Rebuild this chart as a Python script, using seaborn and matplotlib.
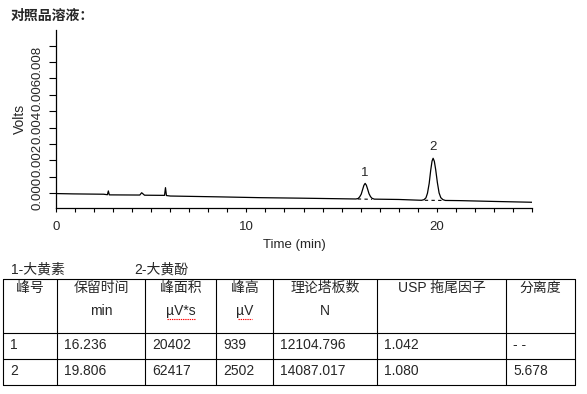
# Chromatogram of the reference solution with the peak result table
import pandas as pd
import matplotlib.pyplot as plt
import seaborn as sns
from matplotlib.ticker import MultipleLocator, FixedLocator

# -------------------------------
# 1. Data
# -------------------------------
time_min = [0.0, 0.9, 2.5, 2.7, 2.75, 2.8, 4.4, 4.5, 4.65, 5.7, 5.75, 5.8, 6.0,
            8.5, 10.7, 12.8, 15.75,
            15.87, 15.95, 16.03, 16.10, 16.17, 16.236, 16.30, 16.37, 16.44, 16.52, 16.60, 16.72,
            18.0, 19.2,
            19.33, 19.43, 19.51, 19.60, 19.68, 19.75, 19.806, 19.87, 19.94, 20.03, 20.12, 20.21,
            20.32, 20.45,
            21.2, 23.0, 25.0]
volts = [-0.00002, -0.00004, -0.00006, -0.00009, 0.00014, -0.00010, -0.00011, 0.00003, -0.00012,
         -0.00013, 0.00034, -0.00014, -0.00017,
         -0.00022, -0.00027, -0.00030, -0.00035,
         -0.00032, -0.00022, -0.00006, 0.00021, 0.00048, 0.00060, 0.00049, 0.00024, -0.00003,
         -0.00021, -0.00031, -0.00036,
         -0.00038, -0.00043,
         -0.00039, -0.00028, 0.00000, 0.00060, 0.00140, 0.00196, 0.00213, 0.00195, 0.00145,
         0.00065, 0.00002, -0.00027, -0.00039, -0.00044,
         -0.00045, -0.00050, -0.00055]

peak_labels = ['1', '2']
peak_rt = [16.236, 19.806]
peak_top = [0.00060, 0.00213]
base_start = [15.85, 19.37]
base_end = [16.60, 20.42]
base_start_v = [-0.00035, -0.00043]
base_end_v = [-0.00037, -0.00044]

compounds = ['1-大黄素', '2-大黄酚']
header_cn = ['峰号', '保留时间', '峰面积', '峰高', '理论塔板数', 'USP 拖尾因子', '分离度']
header_unit = ['', 'min', 'µV*s', 'µV', 'N', '', '']
row1 = ['1', '16.236', '20402', '939', '12104.796', '1.042', '--']
row2 = ['2', '19.806', '62417', '2502', '14087.017', '1.080', '5.678']

df = pd.DataFrame({'Time (min)': time_min, 'Volts': volts})

# -------------------------------
# 2. Style
# -------------------------------
sns.set_style("ticks")
plt.rcParams['font.family'] = ['Liberation Sans', 'Noto Sans CJK SC']

W, H = 587, 394
fig = plt.figure(figsize=(W / 100, H / 100), dpi=100)
ax = fig.add_axes([56 / W, 1 - 208 / H, (532 - 56) / W, (208 - 30) / H])

# -------------------------------
# 3. Chromatogram
# -------------------------------
sns.lineplot(data=df, x='Time (min)', y='Volts', ax=ax, color='black', linewidth=0.9)
for s, e, sv, ev in zip(base_start, base_end, base_start_v, base_end_v):
    ax.plot([s, e], [sv, ev], color='black', linewidth=0.8, linestyle=(0, (3, 3)))
for lab, rt, top in zip(peak_labels, peak_rt, peak_top):
    ax.annotate(lab, (rt, top), xytext=(0, 3.5), textcoords='offset points',
                ha='center', va='bottom', fontsize=9.5)

ax.set_xlim(0, 25)
ax.set_ylim(-0.0009, 0.00995)
ax.xaxis.set_major_locator(FixedLocator([0, 10, 20]))
ax.xaxis.set_minor_locator(MultipleLocator(1))
ax.yaxis.set_major_locator(FixedLocator([0, 0.002, 0.004, 0.006, 0.008]))
ax.yaxis.set_minor_locator(FixedLocator([0.001, 0.003, 0.005, 0.007, 0.009]))
ax.set_yticklabels(['0.000', '0.002', '0.004', '0.006', '0.008'], rotation=90, va='center')
ax.tick_params(axis='x', which='both', length=3, width=0.8, pad=6, labelsize=9.5, color='black')
ax.tick_params(axis='y', which='both', length=5, width=0.8, pad=4, labelsize=9.5, color='black')
ax.set_xlabel('Time (min)', fontsize=9.5, labelpad=5)
ax.set_ylabel('Volts', fontsize=10, labelpad=3)
sns.despine(ax=ax)
for sp in ['left', 'bottom']:
    ax.spines[sp].set_linewidth(0.9)
    ax.spines[sp].set_color('black')

# -------------------------------
# 4. Title, legend and table
# -------------------------------
tab = fig.add_axes([0, 0, 1, 1])
tab.set_xlim(0, W)
tab.set_ylim(H, 0)
tab.axis('off')

tab.text(11, 16, '对照品溶液：', fontsize=10, fontweight='bold', va='center')
for txt, x in zip(compounds, [11, 134]):
    tab.text(x, 270, txt, fontsize=10, va='center')

col_edges = [3, 57, 145, 216, 273, 377, 506, 575]
row_edges = [279, 333, 359, 385]
for x in col_edges:
    tab.plot([x, x], [row_edges[0], row_edges[-1]], color='black', linewidth=0.8)
for y in row_edges:
    tab.plot([col_edges[0], col_edges[-1]], [y, y], color='black', linewidth=0.8)

for i in range(len(header_cn)):
    cx = (col_edges[i] + col_edges[i + 1]) / 2
    tab.text(cx, 288, header_cn[i], fontsize=10, ha='center', va='center')
    if header_unit[i]:
        tab.text(cx, 311, header_unit[i], fontsize=10, ha='center', va='center')
        if 'µ' in header_unit[i]:
            half = 14 if '*' in header_unit[i] else 7
            tab.plot([cx - half, cx + half], [319, 319],
                     color='red', linewidth=0.8, linestyle=(0, (1.2, 0.8)))
    # keep the two hyphens of '--' apart, as in the picture
    cell1 = ' '.join(row1[i]) if row1[i] == '--' else row1[i]
    tab.text(col_edges[i] + 7, 345, cell1, fontsize=10, va='center')
    tab.text(col_edges[i] + 7, 371, row2[i], fontsize=10, va='center')

fig.savefig('out.png', dpi=100)
plt.close(fig)
